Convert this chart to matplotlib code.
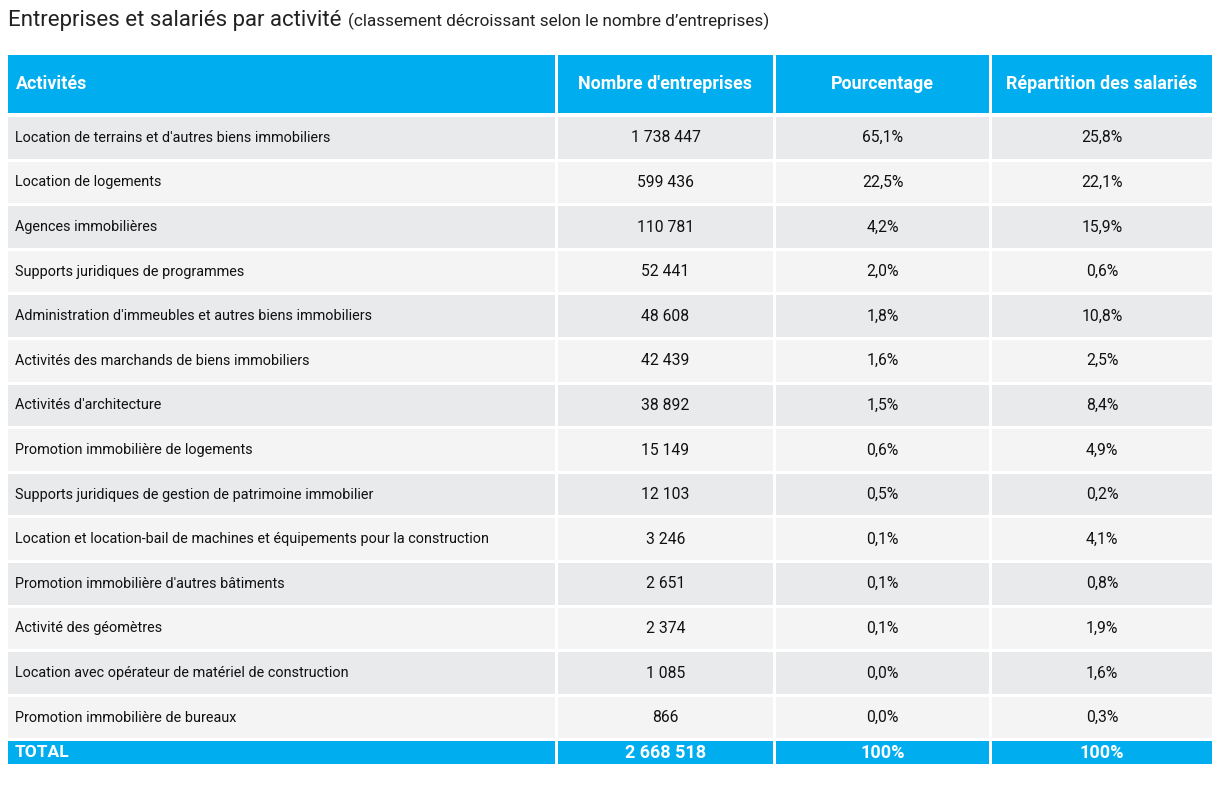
import matplotlib.pyplot as plt
from matplotlib.patches import Rectangle
from matplotlib import font_manager

# Table data
activites = [
    "Location de terrains et d'autres biens immobiliers",
    "Location de logements",
    "Agences immobilières",
    "Supports juridiques de programmes",
    "Administration d'immeubles et autres biens immobiliers",
    "Activités des marchands de biens immobiliers",
    "Activités d'architecture",
    "Promotion immobilière de logements",
    "Supports juridiques de gestion de patrimoine immobilier",
    "Location et location-bail de machines et équipements pour la construction",
    "Promotion immobilière d'autres bâtiments",
    "Activité des géomètres",
    "Location avec opérateur de matériel de construction",
    "Promotion immobilière de bureaux",
]
nb_entreprises = [1738447, 599436, 110781, 52441, 48608, 42439, 38892,
                  15149, 12103, 3246, 2651, 2374, 1085, 866]
pourcentage = [65.1, 22.5, 4.2, 2.0, 1.8, 1.6, 1.5, 0.6, 0.5, 0.1, 0.1, 0.1, 0.0, 0.0]
repartition = [25.8, 22.1, 15.9, 0.6, 10.8, 2.5, 8.4, 4.9, 0.2, 4.1, 0.8, 1.9, 1.6, 0.3]
total_entreprises = 2668518
headers = ["Activités", "Nombre d'entreprises", "Pourcentage", "Répartition des salariés"]

names = {f.name for f in font_manager.fontManager.ttflist}
fam = "Liberation Sans Narrow" if "Liberation Sans Narrow" in names else "Roboto"
plt.rcParams['font.family'] = [fam, 'DejaVu Sans']

def fmt_int(n):
    return f"{n:,}".replace(",", " ")

def fmt_pct(p):
    return f"{p:.1f}%".replace(".", ",")

blue = "#00AEEF"
gray_dark = "#E9EAEC"
gray_light = "#F4F4F5"

fig = plt.figure(figsize=(12.32, 7.89), dpi=100)
ax = fig.add_axes([0, 0, 1, 1])
ax.set_xlim(0, 1232)
ax.set_ylim(789, 0)
ax.axis('off')

# column edges (left, right)
cols = [(8, 555), (558, 773), (776, 989), (992, 1212)]

# title
ax.text(8, 20, "Entreprises et salariés par activité", fontsize=16, color="#222222",
        va='center', ha='left')
ax.text(348, 21, "(classement décroissant selon le nombre d’entreprises)", fontsize=12.3,
        color="#222222", va='center', ha='left')

# header
hy0, hy1 = 55, 113
for i, (x0, x1) in enumerate(cols):
    ax.add_patch(Rectangle((x0, hy0), x1 - x0, hy1 - hy0, color=blue, lw=0))
    if i == 0:
        ax.text(x0 + 8, (hy0 + hy1) / 2, headers[i], color='white', fontsize=12.9,
                fontweight='bold', va='center', ha='left')
    else:
        ax.text((x0 + x1) / 2, (hy0 + hy1) / 2, headers[i], color='white', fontsize=12.9,
                fontweight='bold', va='center', ha='center')

# rows
y_start = 117
row_h = 44.6
gap = 3
for r in range(len(activites)):
    y0 = y_start + r * row_h
    y1 = y0 + row_h - gap
    yc = (y0 + y1) / 2
    bg = gray_dark if r % 2 == 0 else gray_light
    vals = [activites[r], fmt_int(nb_entreprises[r]), fmt_pct(pourcentage[r]), fmt_pct(repartition[r])]
    for i, (x0, x1) in enumerate(cols):
        ax.add_patch(Rectangle((x0, y0), x1 - x0, y1 - y0, color=bg, lw=0))
        if i == 0:
            ax.text(x0 + 7, yc, vals[i], fontsize=10.4, color="#111111", va='center', ha='left')
        else:
            ax.text((x0 + x1) / 2, yc, vals[i], fontsize=11.3, color="#111111", va='center', ha='center')

# total row
ty0, ty1 = 741, 764
tot = ["TOTAL", fmt_int(total_entreprises), "100%", "100%"]
for i, (x0, x1) in enumerate(cols):
    ax.add_patch(Rectangle((x0, ty0), x1 - x0, ty1 - ty0, color=blue, lw=0))
    if i == 0:
        ax.text(x0 + 7, (ty0 + ty1) / 2, tot[i], color='white', fontsize=12.5,
                fontweight='bold', va='center', ha='left')
    else:
        ax.text((x0 + x1) / 2, (ty0 + ty1) / 2, tot[i], color='white', fontsize=13,
                fontweight='bold', va='center', ha='center')

fig.savefig("out.png", dpi=100, facecolor='white')
